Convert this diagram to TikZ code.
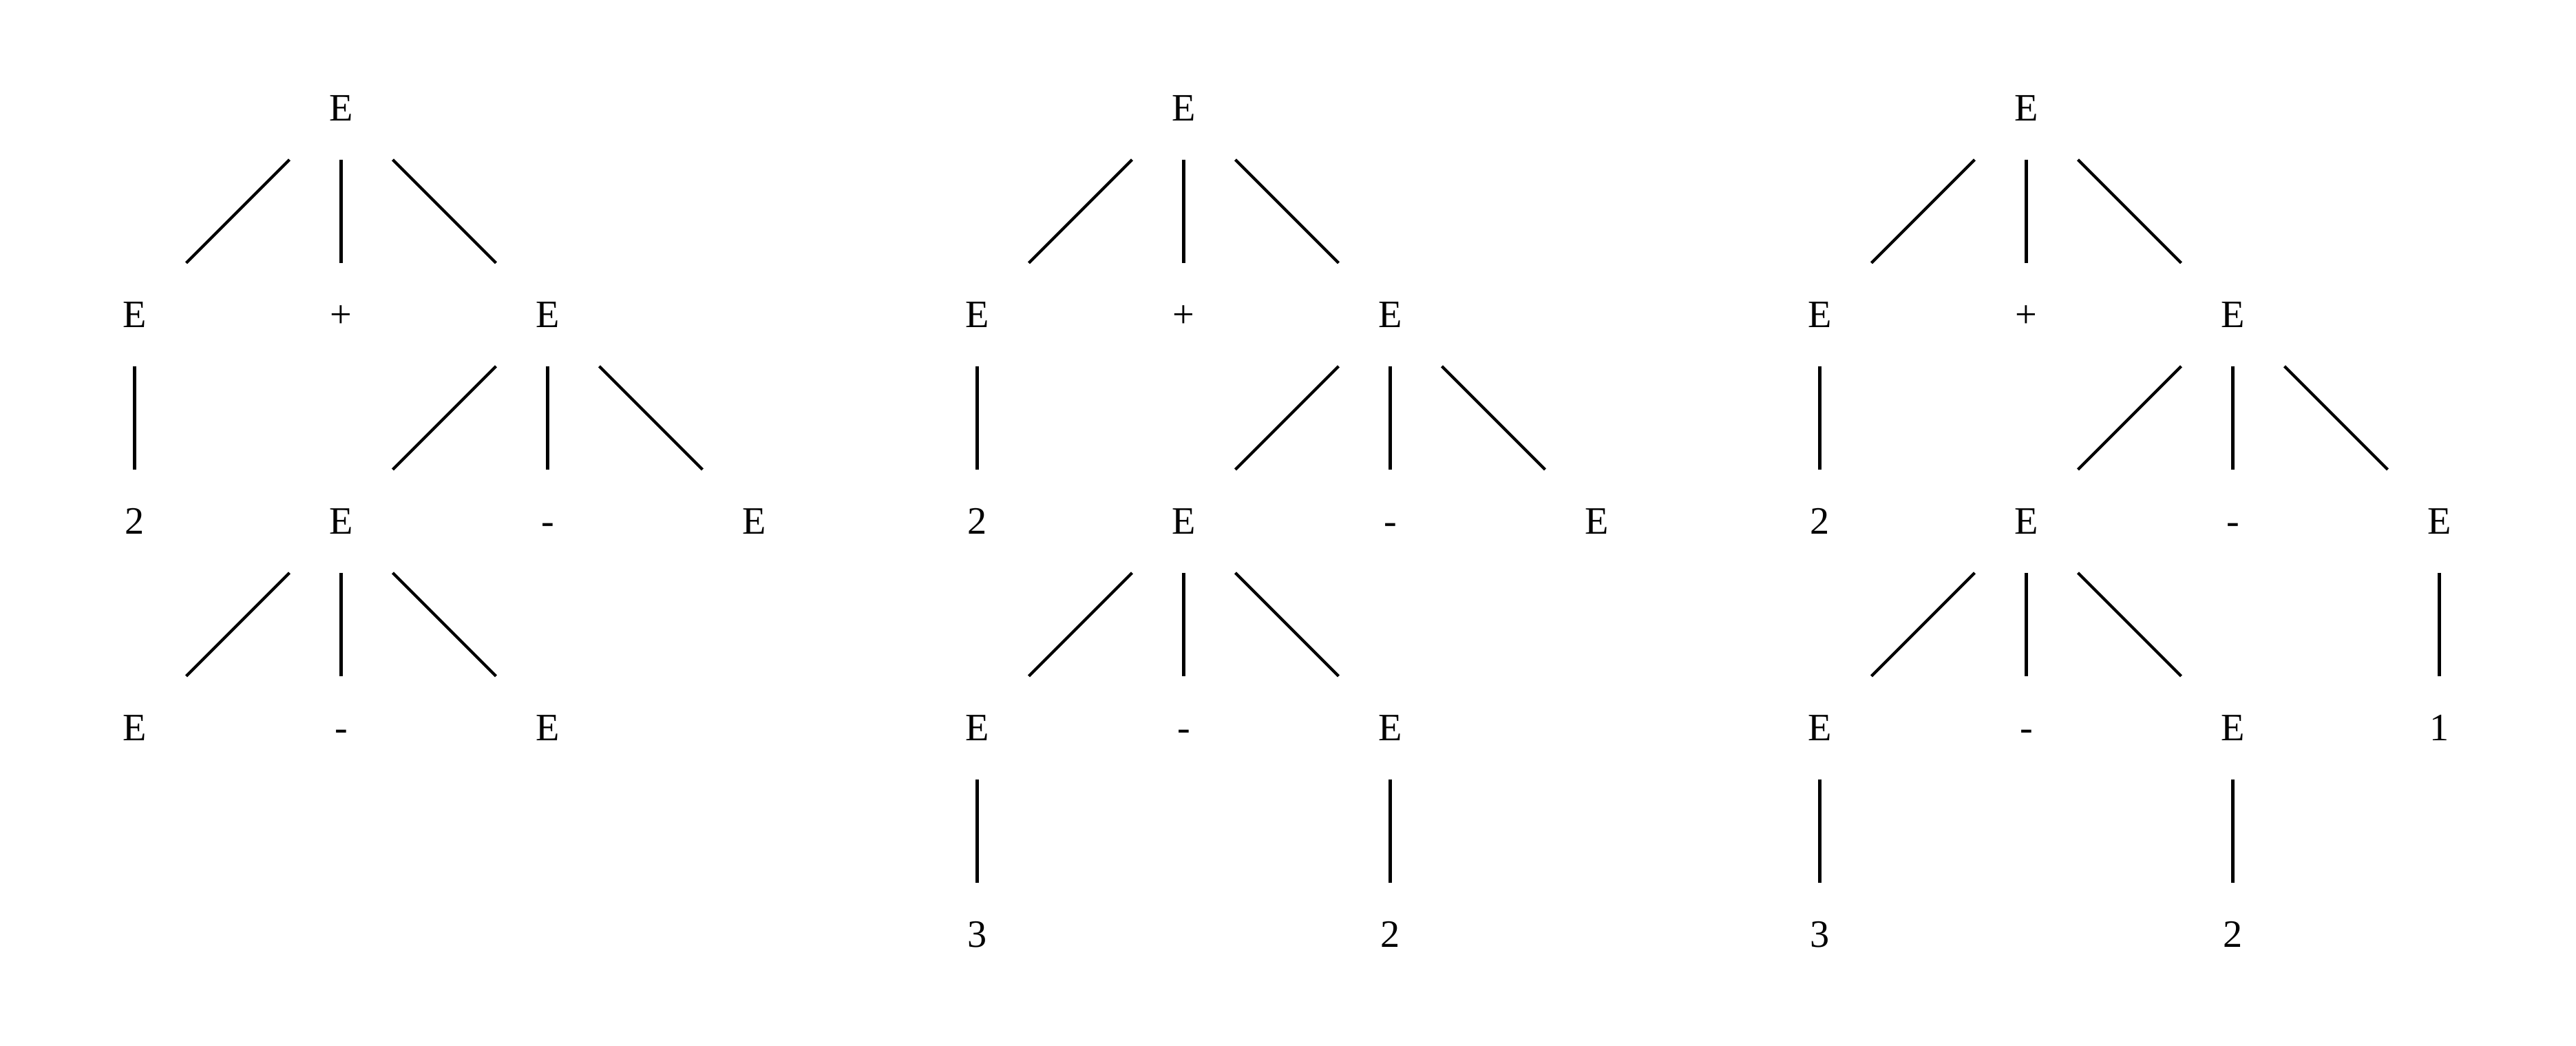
\documentclass[tikz,border=0pt]{standalone}
\usepackage{fontspec}
\setmainfont{Liberation Serif}
\usepackage{tikz}
\usetikzlibrary{calc}

\begin{document}
\begin{tikzpicture}[x=3cm, y=3cm,
  sym/.style={inner sep=0pt, text height=10.6pt, text depth=0pt,
              font=\fontsize{16}{19}\selectfont},
  brl/.style={line width=1.2pt}
]
\useasboundingbox (-0.652,0.523) rectangle (11.822,-4.538);

%% Arbol 1
\node[sym] (a0)  at (1,0)  {E};
\node[sym] (a1)  at (0,-1) {E};
\node[sym] (a2)  at (1,-1) {+};
\node[sym] (a3)  at (2,-1) {E};
\node[sym] (a4)  at (0,-2) {2};
\node[sym] (a5)  at (1,-2) {E};
\node[sym] (a6)  at (2,-2) {-};
\node[sym] (a7)  at (3,-2) {E};
\node[sym] (a8)  at (0,-3) {E};
\node[sym] (a9)  at (1,-3) {-};
\node[sym] (a10) at (2,-3) {E};

\draw[brl] ($(a0)!0.25!(a1)$) -- ($(a0)!0.75!(a1)$);
\draw[brl] ($(a0)!0.25!(a2)$) -- ($(a0)!0.75!(a2)$);
\draw[brl] ($(a0)!0.25!(a3)$) -- ($(a0)!0.75!(a3)$);
\draw[brl] ($(a1)!0.25!(a4)$) -- ($(a1)!0.75!(a4)$);
\draw[brl] ($(a3)!0.25!(a5)$) -- ($(a3)!0.75!(a5)$);
\draw[brl] ($(a3)!0.25!(a6)$) -- ($(a3)!0.75!(a6)$);
\draw[brl] ($(a3)!0.25!(a7)$) -- ($(a3)!0.75!(a7)$);
\draw[brl] ($(a5)!0.25!(a8)$) -- ($(a5)!0.75!(a8)$);
\draw[brl] ($(a5)!0.25!(a9)$) -- ($(a5)!0.75!(a9)$);
\draw[brl] ($(a5)!0.25!(a10)$) -- ($(a5)!0.75!(a10)$);

%% Arbol 2
\node[sym] (b0)  at (5.08,0)  {E};
\node[sym] (b1)  at (4.08,-1) {E};
\node[sym] (b2)  at (5.08,-1) {+};
\node[sym] (b3)  at (6.08,-1) {E};
\node[sym] (b4)  at (4.08,-2) {2};
\node[sym] (b5)  at (5.08,-2) {E};
\node[sym] (b6)  at (6.08,-2) {-};
\node[sym] (b7)  at (7.08,-2) {E};
\node[sym] (b8)  at (4.08,-3) {E};
\node[sym] (b9)  at (5.08,-3) {-};
\node[sym] (b10) at (6.08,-3) {E};
\node[sym] (b11) at (4.08,-4) {3};
\node[sym] (b12) at (6.08,-4) {2};

\draw[brl] ($(b0)!0.25!(b1)$) -- ($(b0)!0.75!(b1)$);
\draw[brl] ($(b0)!0.25!(b2)$) -- ($(b0)!0.75!(b2)$);
\draw[brl] ($(b0)!0.25!(b3)$) -- ($(b0)!0.75!(b3)$);
\draw[brl] ($(b1)!0.25!(b4)$) -- ($(b1)!0.75!(b4)$);
\draw[brl] ($(b3)!0.25!(b5)$) -- ($(b3)!0.75!(b5)$);
\draw[brl] ($(b3)!0.25!(b6)$) -- ($(b3)!0.75!(b6)$);
\draw[brl] ($(b3)!0.25!(b7)$) -- ($(b3)!0.75!(b7)$);
\draw[brl] ($(b5)!0.25!(b8)$) -- ($(b5)!0.75!(b8)$);
\draw[brl] ($(b5)!0.25!(b9)$) -- ($(b5)!0.75!(b9)$);
\draw[brl] ($(b5)!0.25!(b10)$) -- ($(b5)!0.75!(b10)$);
\draw[brl] ($(b8)!0.25!(b11)$) -- ($(b8)!0.75!(b11)$);
\draw[brl] ($(b10)!0.25!(b12)$) -- ($(b10)!0.75!(b12)$);

%% Arbol 3
\node[sym] (c0)  at (9.16,0)   {E};
\node[sym] (c1)  at (8.16,-1)  {E};
\node[sym] (c2)  at (9.16,-1)  {+};
\node[sym] (c3)  at (10.16,-1) {E};
\node[sym] (c4)  at (8.16,-2)  {2};
\node[sym] (c5)  at (9.16,-2)  {E};
\node[sym] (c6)  at (10.16,-2) {-};
\node[sym] (c7)  at (11.16,-2) {E};
\node[sym] (c8)  at (8.16,-3)  {E};
\node[sym] (c9)  at (9.16,-3)  {-};
\node[sym] (c10) at (10.16,-3) {E};
\node[sym] (c11) at (11.16,-3) {1};
\node[sym] (c12) at (8.16,-4)  {3};
\node[sym] (c13) at (10.16,-4) {2};

\draw[brl] ($(c0)!0.25!(c1)$) -- ($(c0)!0.75!(c1)$);
\draw[brl] ($(c0)!0.25!(c2)$) -- ($(c0)!0.75!(c2)$);
\draw[brl] ($(c0)!0.25!(c3)$) -- ($(c0)!0.75!(c3)$);
\draw[brl] ($(c1)!0.25!(c4)$) -- ($(c1)!0.75!(c4)$);
\draw[brl] ($(c3)!0.25!(c5)$) -- ($(c3)!0.75!(c5)$);
\draw[brl] ($(c3)!0.25!(c6)$) -- ($(c3)!0.75!(c6)$);
\draw[brl] ($(c3)!0.25!(c7)$) -- ($(c3)!0.75!(c7)$);
\draw[brl] ($(c5)!0.25!(c8)$) -- ($(c5)!0.75!(c8)$);
\draw[brl] ($(c5)!0.25!(c9)$) -- ($(c5)!0.75!(c9)$);
\draw[brl] ($(c5)!0.25!(c10)$) -- ($(c5)!0.75!(c10)$);
\draw[brl] ($(c7)!0.25!(c11)$) -- ($(c7)!0.75!(c11)$);
\draw[brl] ($(c8)!0.25!(c12)$) -- ($(c8)!0.75!(c12)$);
\draw[brl] ($(c10)!0.25!(c13)$) -- ($(c10)!0.75!(c13)$);

\end{tikzpicture}
\end{document}
